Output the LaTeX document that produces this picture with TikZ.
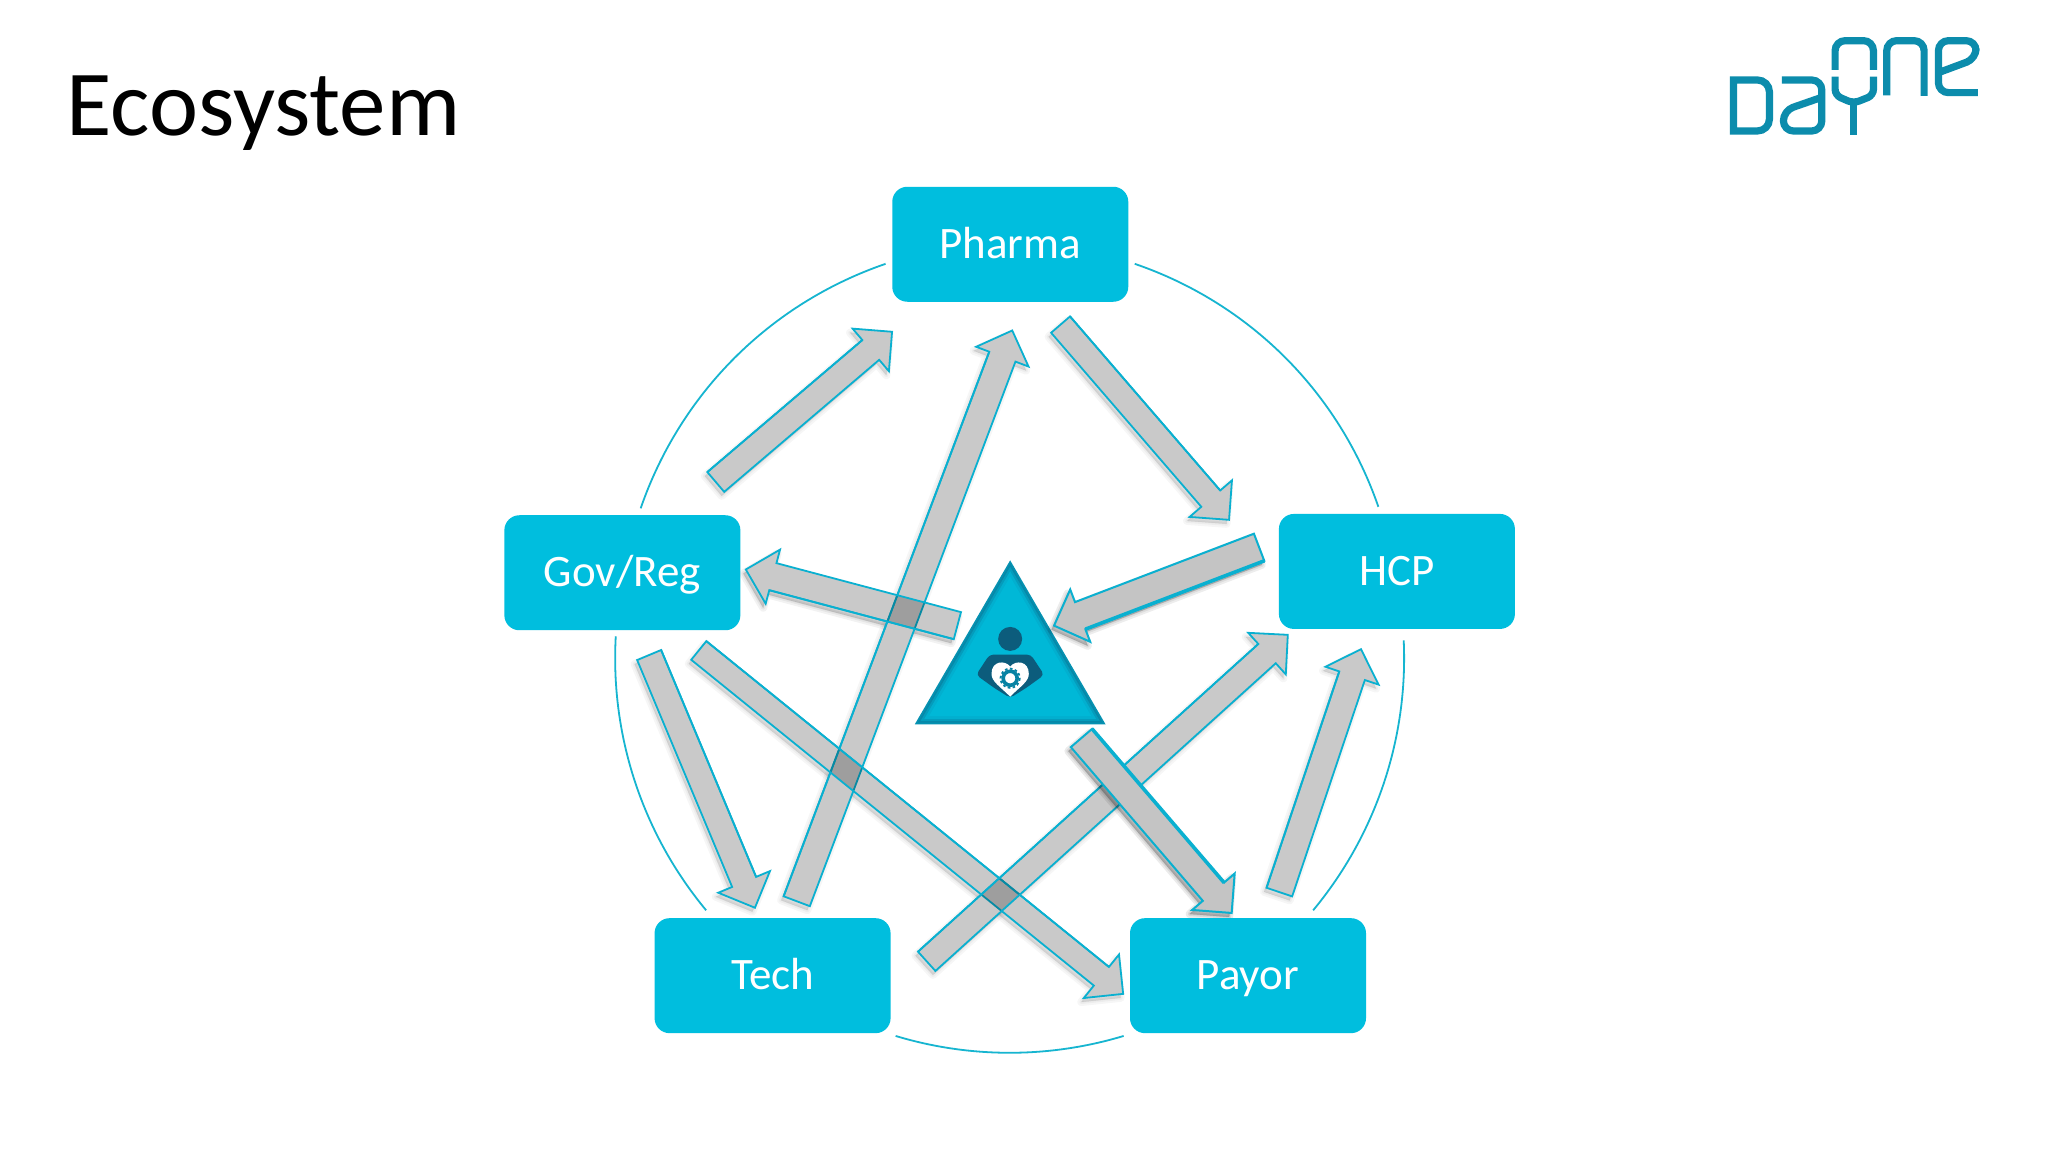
\documentclass[tikz,border=0pt]{standalone}
\usepackage{fontspec}
\setmainfont{Carlito}
\usetikzlibrary{calc}
\definecolor{boxcyan}{RGB}{0,190,222}
\definecolor{ringcyan}{RGB}{22,181,208}
\definecolor{edgecyan}{RGB}{10,176,208}
\definecolor{icondark}{RGB}{12,92,124}
\definecolor{logoteal}{RGB}{12,140,172}
\newdimen\arrXa \newdimen\arrYa \newdimen\arrXb \newdimen\arrYb
\newcount\arrowpass
% #1 style, #2 from, #3 to, #4 shaft half width, #5 shadow strength
\newcommand{\blockarrow}[5]{%
  \pgfextractx{\arrXa}{\pgfpointanchor{#2}{center}}%
  \pgfextracty{\arrYa}{\pgfpointanchor{#2}{center}}%
  \pgfextractx{\arrXb}{\pgfpointanchor{#3}{center}}%
  \pgfextracty{\arrYb}{\pgfpointanchor{#3}{center}}%
  \pgfmathsetmacro{\arrAng}{atan2(\arrYb-\arrYa,\arrXb-\arrXa)}%
  \pgfmathsetmacro{\arrLen}{veclen(\arrXb-\arrXa,\arrYb-\arrYa)}%
  \pgfmathsetmacro{\arrNeck}{\arrLen-28}%
  \def\arrShape{(0pt,-#4pt) -- (\arrNeck pt,-#4pt) -- (\arrNeck pt,-28pt) -- (\arrLen pt,0pt) -- (\arrNeck pt,28pt) -- (\arrNeck pt,#4pt) -- (0pt,#4pt) -- cycle}%
  \ifnum\arrowpass=0
  \begin{scope}[shift={(#2)},xshift=-2.5pt,yshift=-4pt,rotate=\arrAng]
    \draw[black,opacity=#5,line width=8pt,line join=round,fill=black] \arrShape;
    \draw[black,opacity=#5,line width=4pt,line join=round,fill=black] \arrShape;
    \draw[black,opacity=#5,line width=1pt,line join=round,fill=black] \arrShape;
  \end{scope}
  \fi
  \ifnum\arrowpass=1
  \begin{scope}[shift={(#2)},rotate=\arrAng]
    \fill[white] \arrShape;
  \end{scope}
  \fi
  \ifnum\arrowpass=2
  \begin{scope}[shift={(#2)},rotate=\arrAng]
    \draw[#1] \arrShape;
    \draw[heavyedge] (0pt,#4pt) -- (\arrNeck pt,#4pt);
  \end{scope}
  \fi
}
\newcommand{\glassarrows}{%
  \blockarrow{glassarrow}{gp-s}{gp-e}{13}{.035}%
  \blockarrow{glassarrow}{tp-s}{tp-e}{14}{.035}%
  \blockarrow{glassarrow}{ph-s}{ph-e}{12.5}{.035}%
  \blockarrow{glassarrow}{gt-s}{gt-e}{13}{.035}%
  \blockarrow{glassarrow}{gy-s}{gy-e}{12}{.035}%
  \blockarrow{glassarrow}{th-s}{th-e}{13}{.035}%
  \blockarrow{glassarrow}{yh-s}{yh-e}{13.5}{.035}%
  \blockarrow{glassarrow}{cg-s}{cg-e}{14}{.05}%
}
\tikzset{
  x=1.30612pt,y=-1.30612pt,
  partner/.style={rectangle,rounded corners=15pt,fill=boxcyan,text=white,
    minimum width=236pt,minimum height=115pt,inner sep=0pt,
    text height=30pt,text depth=2pt,
    font=\fontsize{45pt}{48pt}\selectfont},
  ring/.style={draw=ringcyan,line width=1.8pt},
  glassarrow/.style={draw=edgecyan,line width=1.8pt,fill=black,fill opacity=.21,line join=miter},
  solidarrow/.style={draw=edgecyan,line width=2pt,fill=black!23,line join=miter},
  heavyedge/.style={draw=edgecyan,line width=1.8pt},
  logostroke/.style={draw=logoteal,line width=7.2pt,rounded corners=10pt,line cap=butt},
}
\begin{document}
\begin{tikzpicture}
\useasboundingbox (0,0) rectangle (1568,882);
\fill[white] (0,0) rectangle (1568,882);

% title
\node[anchor=base west,inner sep=0pt,font=\fontsize{93pt}{96pt}\selectfont] (title) at (51,104) {Ecosystem};

% ring
\coordinate (c) at (773,504);
\coordinate (tl-a) at (678,202);   \coordinate (tl-b) at (490.5,389.2);
\coordinate (tr-a) at (868.8,202); \coordinate (tr-b) at (1055.3,388);
\draw[ring] (tl-a) to[bend right=26,looseness=.9] (tl-b);
\draw[ring] (tr-a) to[bend left=26,looseness=.9] (tr-b);
\foreach \a/\b in {2.6/-39.7,-73.2/-106.8,176.8/219.7}
  \draw[ring] (c) ++(\a:394.5pt) arc[start angle=\a,end angle=\b,radius=394.5pt];

% arrow end points
\coordinate (gp-s) at (548,369);   \coordinate (gp-e) at (683,254);
\coordinate (tp-s) at (610,690);   \coordinate (tp-e) at (775,253);
\coordinate (ph-s) at (812,248.5); \coordinate (ph-e) at (941,398);
\coordinate (hc-s) at (964,419);   \coordinate (hc-e) at (807,479);
\coordinate (cg-s) at (733,479);   \coordinate (cg-e) at (571,436);
\coordinate (gt-s) at (497,501.5); \coordinate (gt-e) at (578,695);
\coordinate (gy-s) at (535,498);   \coordinate (gy-e) at (860,761);
\coordinate (th-s) at (709.5,736); \coordinate (th-e) at (986,486);
\coordinate (yh-s) at (979.5,683); \coordinate (yh-e) at (1042,497);
\coordinate (cy-s) at (828,565);   \coordinate (cy-e) at (943,699);

% block arrows: shadows, white knock-out, then glass faces
\arrowpass=0 \glassarrows
\arrowpass=1 \glassarrows
\arrowpass=2 \glassarrows

% centre triangle
\foreach \s/\col in {1/boxcyan!55!icondark,.97/boxcyan!45!icondark,.94/boxcyan!65!icondark,.90/boxcyan!85!icondark,.85/boxcyan!97!black}
  \fill[\col] ($(773.4,512.5)+\s*(0,-83.5)$) -- ($(773.4,512.5)+\s*(73,42)$) -- ($(773.4,512.5)+\s*(-73,42)$) -- cycle;

\begin{scope}[shift={(773.4,518)},x=.3333pt,y=-.3333pt]
  \fill[icondark] (0,-113) circle[radius=36];
  \fill[icondark,rounded corners=4pt] (-102,-5) -- (-62,-66) -- (62,-66) -- (102,-5) -- (48,34) -- (0,64) -- (-48,34) -- cycle;
  \fill[white] (0,60) .. controls (-30,30) and (-56,15) .. (-56,-8) .. controls (-56,-48) and (-15,-50) .. (0,-30) .. controls (15,-50) and (56,-48) .. (56,-8) .. controls (56,15) and (30,30) .. (0,60) -- cycle;
  \draw[icondark!60!boxcyan,line width=3.6pt] (0,5) circle[radius=21];
  \draw[icondark!60!boxcyan,line width=1.8pt,dash pattern=on 2.6pt off 2.4pt] (0,5) circle[radius=29];
\end{scope}

\arrowpass=0
\blockarrow{solidarrow}{hc-s}{hc-e}{14.5}{.07}
\blockarrow{solidarrow}{cy-s}{cy-e}{14}{.08}
\arrowpass=2
\tikzset{heavyedge/.style={draw=edgecyan,line width=3.6pt}}
\blockarrow{solidarrow}{hc-s}{hc-e}{14.5}{.07}
\blockarrow{solidarrow}{cy-s}{cy-e}{14}{.08}

% partners
\node[partner] (pharma) at (773.5,187) {Pharma};
\node[partner] (hcp)    at (1069.5,437.5) {HCP};
\node[partner] (govreg) at (476.5,438.5) {Gov/Reg};
\node[partner] (tech)   at (591.5,747) {Tech};
\node[partner] (payor)  at (955.5,747) {Payor};

% logo
\begin{scope}[shift={(1301.65,15.3)},x=.3333pt,y=-.3333pt]
  % D
  \draw[logostroke] (100,180) [rounded corners=12pt] -- (208,180) -- (208,333) [sharp corners] -- (100,333) -- cycle;
  % A
  \draw[logostroke] (245,180) -- (365,180) -- (365,333) -- (250,333) -- (250,272) -- (365,232);
  % Y
  \draw[logostroke,rounded corners=6pt] (405,170) -- (405,226) -- (460,250) -- (520,226) -- (520,170);
  \draw[logostroke] (460,250) -- (460,345);
  % O
  \draw[logostroke] (405,150) -- (405,62) -- (520,62) -- (520,150);
  % N
  \draw[logostroke] (560,226) -- (560,62) -- (672,62) -- (672,228);
  % E
  \draw[logostroke] (833,218) -- (715,218) -- (715,62) -- (828,62) -- (828,116) -- (715,158);
\end{scope}
\end{tikzpicture}
\end{document}
